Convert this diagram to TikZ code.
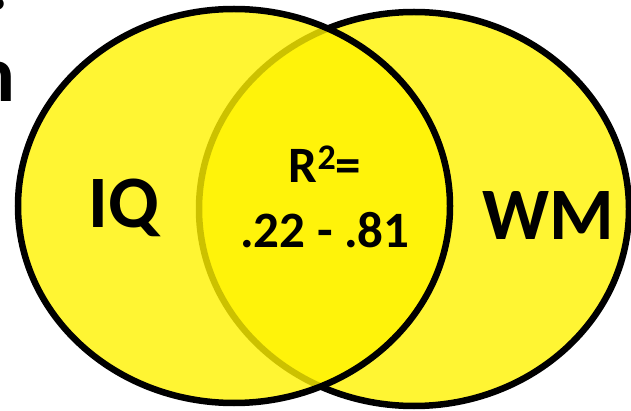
\documentclass[tikz,border=0pt]{standalone}
\usepackage{fontspec}
\setmainfont{Carlito}

\begin{document}
\begin{tikzpicture}
[
	x=1pt, y=-1pt,
	setfill/.style={fill=yellow, fill opacity=0.8, draw=black, line width=6.5pt},
	biglabel/.style={font=\bfseries\fontsize{74}{74}\selectfont, inner sep=0pt, anchor=base},
	midlabel/.style={font=\bfseries\fontsize{51}{51}\selectfont, inner sep=0pt, anchor=base},
	cutlabel/.style={font=\bfseries\fontsize{80}{80}\selectfont, inner sep=0pt}
]

	\clip (0,0) rectangle (631,411);

	% sets (WM first, IQ on top)
	\draw[setfill] (414,209) ellipse [x radius=215pt, y radius=197pt];
	\draw[setfill] (234,206) ellipse [x radius=216pt, y radius=197pt];

	% labels
	\node[biglabel] (iq) at (124,228) {IQ};
	\node[biglabel] (wm) at (548,240) {WM};
	\node[midlabel] (rsq) at (325,183) {R\raisebox{13pt}{\fontsize{36}{36}\selectfont 2}=};
	\node[midlabel] (range) at (325,248) {.22 - .81};

	% cut-off text at the left edge
	\node[cutlabel, anchor=base east] (cutn) at (16,102) {n};
	\node[cutlabel, anchor=base west] (cutq) at (-19,10) {?};

\end{tikzpicture}
\end{document}
